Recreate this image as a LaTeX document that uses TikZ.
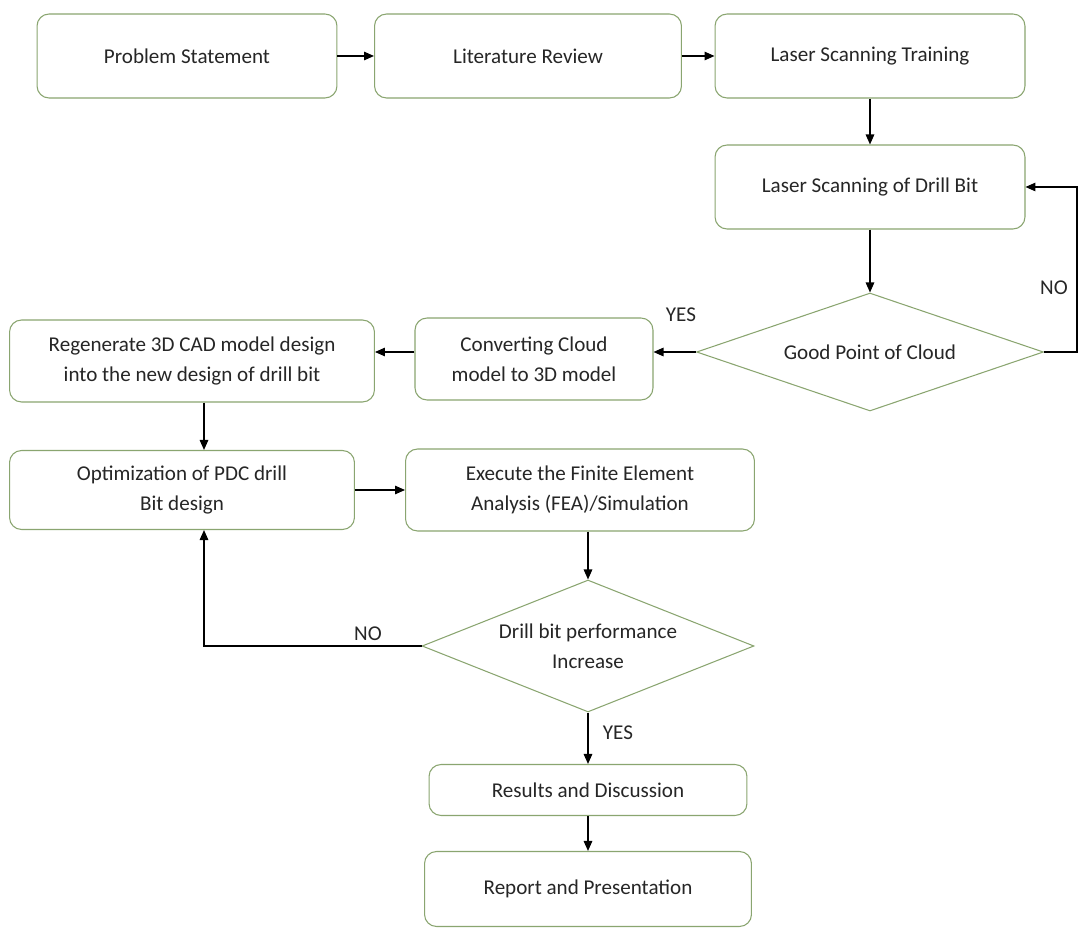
\documentclass[tikz,border=0pt]{standalone}
\usepackage{fontspec}
\setmainfont{Carlito}
\usepackage{tikz}
\usetikzlibrary{arrows.meta,shapes.geometric,calc}
\definecolor{boxgreen}{RGB}{138,165,112}
\definecolor{textgray}{RGB}{38,38,38}

\begin{document}
\begin{tikzpicture}[x=0.02cm,y=-0.02cm,>={Triangle[length=2mm,width=1.7mm]},every node/.style={font=\fontsize{12}{17}\selectfont,text=textgray}]
\tikzstyle{stepbox}=[rectangle,rounded corners=2.4mm,draw=boxgreen,line width=0.6pt,fill=white,align=center,inner sep=2pt]
\tikzstyle{decision}=[diamond,shape aspect=2.5,draw=boxgreen,line width=0.6pt,fill=white,align=center,inner sep=0pt]
\tikzstyle{flow}=[->,line width=0.8pt,black]
\useasboundingbox (0,0) rectangle (1080,929);
\node[stepbox,minimum width=6cm,minimum height=1.68cm] (prob) at (187,56) {Problem Statement};
\node[stepbox,minimum width=6.14cm,minimum height=1.68cm] (lit) at (528,56) {Literature Review};
\node[stepbox,minimum width=6.2cm,minimum height=1.68cm] (train) at (870,56) {Laser Scanning Training};
\node[stepbox,minimum width=6.2cm,minimum height=1.68cm] (scan) at (870,187) {Laser Scanning of Drill Bit};
\node[decision,minimum width=6.94cm,minimum height=2.36cm] (good) at (870,352) {Good Point of Cloud};
\node[stepbox,minimum width=4.76cm,minimum height=1.64cm] (conv) at (534,359) {Converting Cloud\\model to 3D model};
\node[stepbox,minimum width=7.3cm,minimum height=1.64cm] (regen) at (192,361) {Regenerate 3D CAD model design\\into the new design of drill bit};
\node[stepbox,minimum width=6.9cm,minimum height=1.58cm] (opt) at (182,490) {Optimization of PDC drill\\Bit design};
\node[stepbox,minimum width=6.98cm,minimum height=1.64cm] (fea) at (580,490) {Execute the Finite Element\\Analysis (FEA)/Simulation};
\node[decision,minimum width=6.64cm,minimum height=2.64cm] (perf) at (588,646) {Drill bit performance\\Increase};
\node[stepbox,minimum width=6.36cm,minimum height=1.02cm] (res) at (588,790) {Results and Discussion};
\node[stepbox,minimum width=6.54cm,minimum height=1.5cm] (rep) at (588,889) {Report and Presentation};
\coordinate (loopx) at (204,0);
\draw[flow] (prob) -- (lit);
\draw[flow] (lit) -- (train);
\draw[flow] (train) -- (scan);
\draw[flow] (scan) -- (good);
\draw[flow] (good.east) -- ++(33,0) |- (scan.east);
\draw[flow] (good.west) -- (good.west -| conv.east);
\draw[flow] (conv.west |- good.west) -- (good.west -| regen.east);
\draw[flow] (regen.south -| loopx) -- (opt.north -| loopx);
\draw[flow] (opt) -- (fea);
\draw[flow] (fea.south -| perf) -- (perf.north);
\draw[flow] (perf.west) -| (opt.south -| loopx);
\draw[flow] (perf) -- (res);
\draw[flow] (res) -- (rep);
\node (yes1) at (681,315) {YES};
\node (no1) at (1054,288) {NO};
\node (no2) at (368,634) {NO};
\node (yes2) at (618,733) {YES};
\end{tikzpicture}
\end{document}
